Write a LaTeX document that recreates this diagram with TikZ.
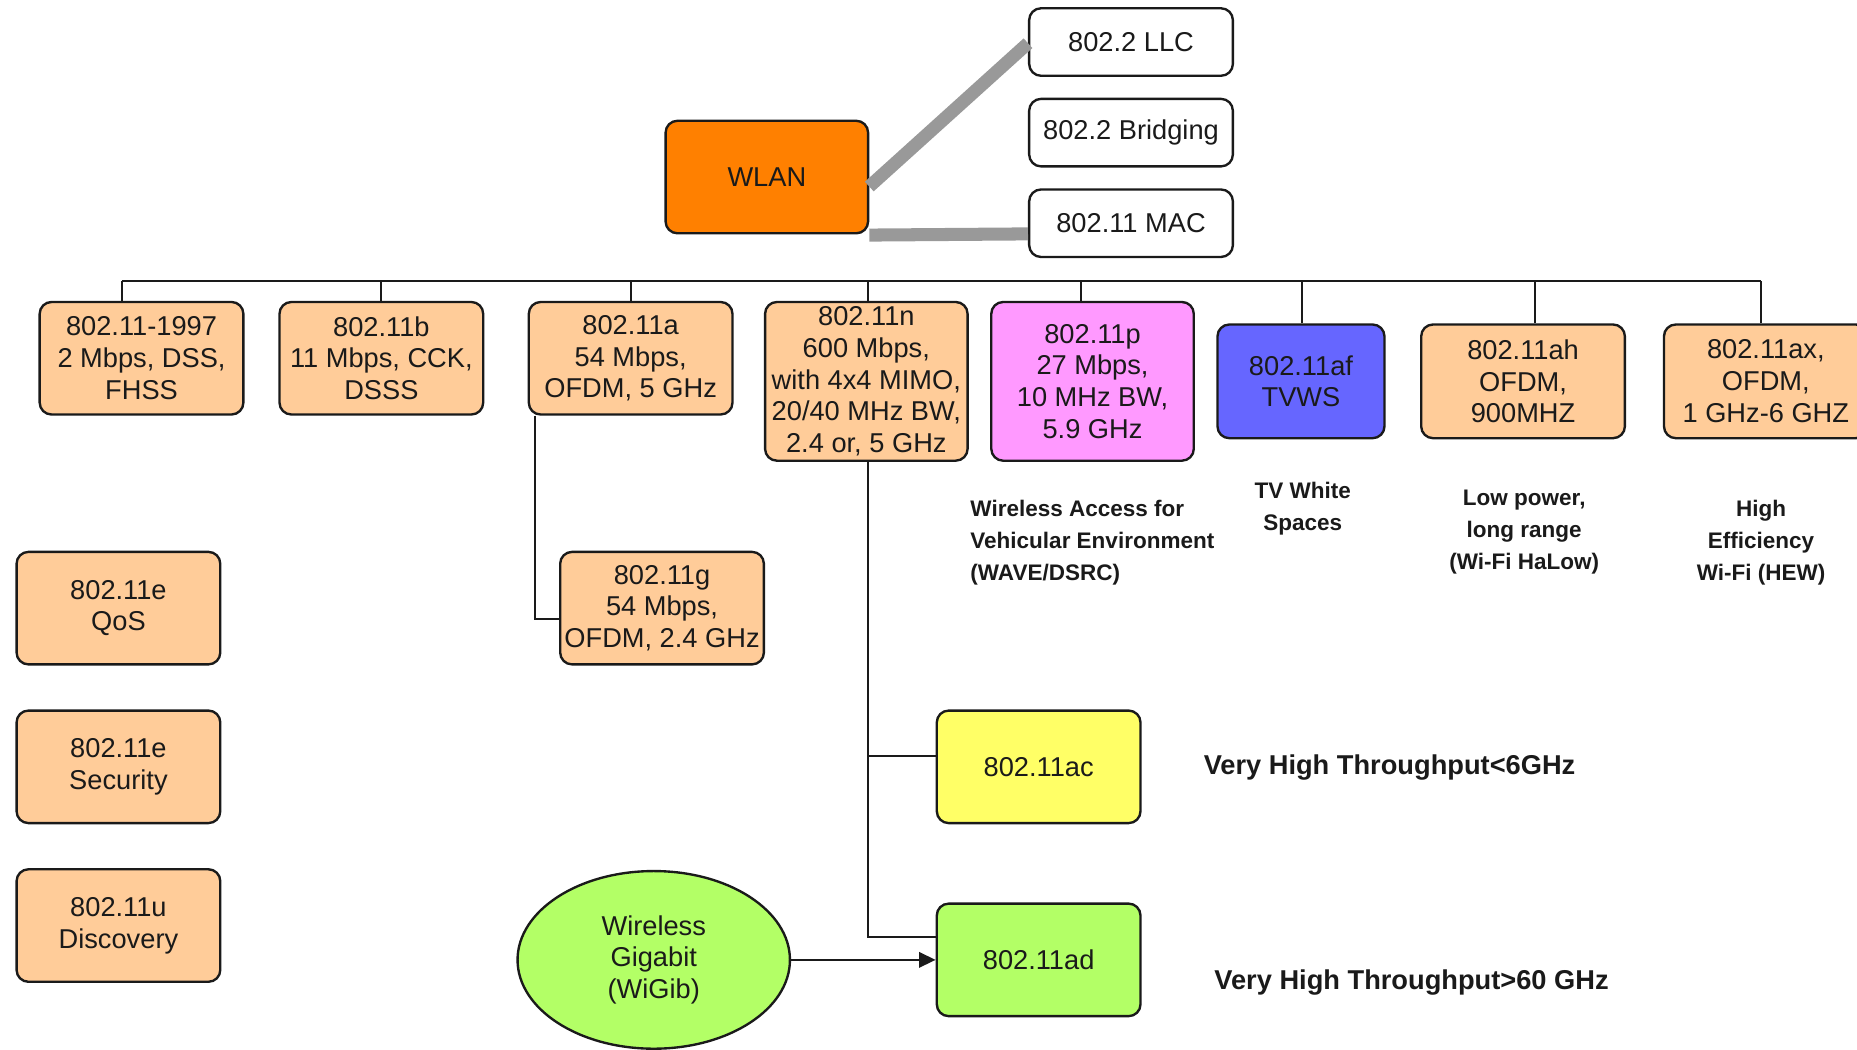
\documentclass[tikz,border=0pt]{standalone}
\usepackage{fontspec}
\setmainfont{Liberation Sans}
\usetikzlibrary{arrows.meta,calc,shapes.geometric}

\definecolor{wlanorange}{HTML}{FF8000}
\definecolor{peach}{HTML}{FFCC99}
\definecolor{pinkbox}{HTML}{FF99FF}
\definecolor{bluebox}{HTML}{6666FF}
\definecolor{yellowbox}{HTML}{FFFF66}
\definecolor{greenbox}{HTML}{B3FF66}
\definecolor{barcol}{HTML}{999999}
\definecolor{ink}{HTML}{1A1A1A}

\tikzset{
  box/.style={draw=ink, line width=1pt, rounded corners=5pt, align=center,
    inner sep=0pt, text=ink, font=\fontsize{11.5}{13.4}\selectfont},
  stdbox/.style={box, minimum width=86pt, minimum height=47.5pt},
  tallbox/.style={box, minimum width=85.5pt, minimum height=67pt},
  thinbox/.style={box, minimum width=86pt, minimum height=28.5pt},
  wire/.style={draw=ink, line width=0.9pt},
  bar/.style={draw=barcol, line width=5.5pt},
  note/.style={inner sep=0pt, text=ink, align=center,
    font=\bfseries\fontsize{9.5}{13.5}\selectfont},
  bignote/.style={inner sep=0pt, text=ink, anchor=west,
    font=\bfseries\fontsize{11.5}{14}\selectfont},
}

\begin{document}
\begin{tikzpicture}[x=0.5pt, y=-0.5pt]
\useasboundingbox (0,0) rectangle (1568,886);

% top: WLAN and its layers
\node[box, fill=wlanorange, minimum width=85.5pt, minimum height=47.5pt] (wlan) at (647.5,149.5) {WLAN};
\node[thinbox, fill=white] (llc) at (955,35.5) {802.2 LLC};
\node[thinbox, fill=white] (brid) at (955,112) {802.2 Bridging};
\node[thinbox, fill=white] (mac) at (955,188.5) {802.11 MAC};

\draw[bar] ($(wlan.east)+(0,8)$) -- ($(llc.west)+(0,1)$);
\draw[bar] ($(wlan.south east)+(0,0.5)$) -- ($(mac.west)+(0,9)$);

% row of PHY amendments
\node[stdbox, fill=peach] (n1997) at (119.5,302.5) {802.11-1997\\2 Mbps, DSS,\\FHSS};
\node[stdbox, fill=peach] (nb) at (322,302.5) {802.11b\\11 Mbps, CCK,\\DSSS};
\node[stdbox, fill=peach] (na) at (532.5,302.5) {802.11a\\54 Mbps,\\OFDM, 5 GHz};
\node[tallbox, fill=peach] (nn) at (731.5,322) {802.11n\\600 Mbps,\\with 4x4 MIMO,\\20/40 MHz BW,\\2.4 or, 5 GHz};
\node[tallbox, fill=pinkbox] (np) at (922.5,322) {802.11p\\27 Mbps,\\10 MHz BW,\\5.9 GHz};
\node[box, fill=bluebox, minimum width=70.5pt, minimum height=48pt] (naf) at (1098.5,322) {802.11af\\TVWS};
\node[stdbox, fill=peach, minimum height=48pt] (nah) at (1286,322) {802.11ah\\OFDM,\\900MHZ};
\node[stdbox, fill=peach, minimum height=48pt] (nax) at (1491,322) {802.11ax,\\OFDM,\\1 GHz-6 GHZ};

% bus and drops
\coordinate (bus) at (0,237);
\foreach \n/\dx in {n1997/-16.5, nb/0, na/0, nn/1.5, np/-9.5, naf/0.5, nah/10, nax/-4}
  \draw[wire] ($(\n.north)+(\dx,0)$) coordinate (b-\n) -- (b-\n |- bus) coordinate (t-\n);
\draw[wire] (t-n1997) -- (t-nax);

% notes under the row
\node[note, align=left, anchor=west] (wave) at (819,458) {Wireless Access for\\Vehicular Environment\\(WAVE/DSRC)};
\node[note] (tvws) at (1100,429.5) {TV White\\Spaces};
\node[note] (halow) at (1287,449) {Low power,\\long range\\(Wi-Fi HaLow)};
\node[note] (hew) at (1487,458) {High\\Efficiency\\Wi-Fi (HEW)};

% left column
\node[stdbox, fill=peach] (qos) at (100,513.5) {802.11e\\QoS};
\node[stdbox, fill=peach] (sec) at (100,647.5) {802.11e\\Security};
\node[stdbox, fill=peach] (disc) at (100,781.5) {802.11u\\Discovery};

% 802.11g under 802.11a
\node[stdbox, fill=peach] (ng) at (559,513.5) {802.11g\\54 Mbps,\\OFDM, 2.4 GHz};
\draw[wire] ($(na.south west)+(6,0)$) |- ($(ng.west)+(0,9.5)$);

% very high throughput branch
\node[stdbox, fill=yellowbox] (nac) at (877,647.5) {802.11ac};
\node[stdbox, fill=greenbox] (nad) at (877,810.5) {802.11ad};
\node[ellipse, draw=ink, line width=1pt, fill=greenbox, inner sep=0pt,
      minimum width=115pt, minimum height=75pt, align=center, text=ink,
      font=\fontsize{11.5}{13.4}\selectfont] (wigib) at (552,810.5) {Wireless\\Gigabit\\(WiGib)};

\draw[wire] ($(nn.south)+(1.5,0)$) |- ($(nac.west)+(0,-9.5)$);
\draw[wire] ($(nn.south)+(1.5,0)$) |- ($(nad.west)+(0,-19.5)$);
\draw[wire, -{Triangle[length=7pt, width=6.5pt]}] (wigib.east) -- (nad.west);

\node[bignote] (vht6) at (1016,648) {Very High Throughput<6GHz};
\node[bignote] (vht60) at (1025,830) {Very High Throughput>60 GHz};
\end{tikzpicture}
\end{document}
